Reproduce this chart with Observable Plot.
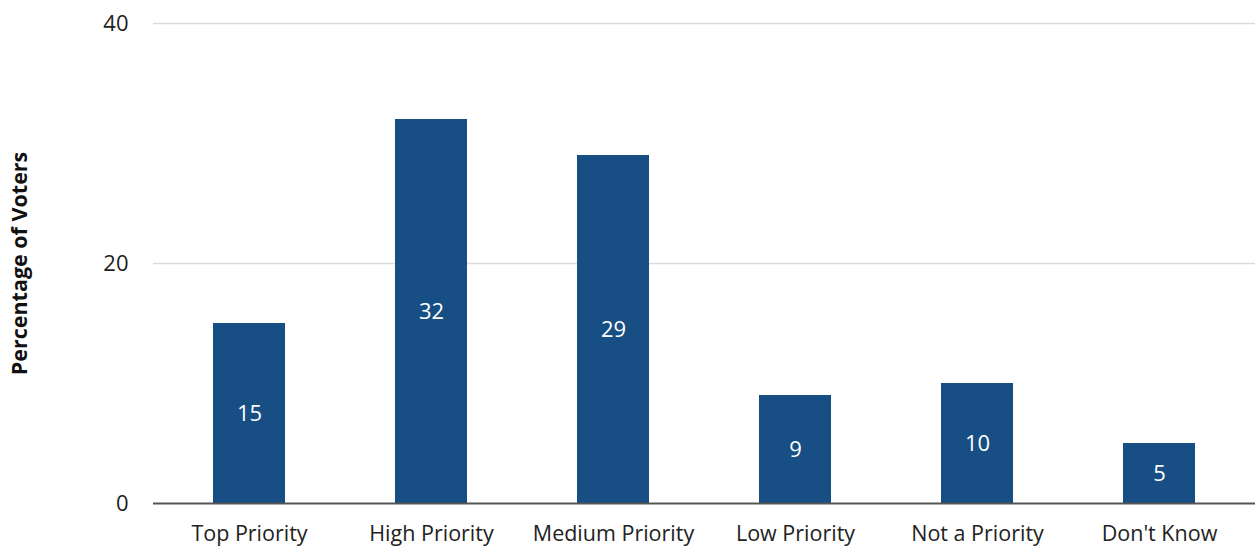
<!DOCTYPE html>
<html><head><meta charset="utf-8">
<script src="https://cdn.jsdelivr.net/npm/d3@7"></script>
<script src="https://cdn.jsdelivr.net/npm/@observablehq/plot@0.6"></script>
<style>
html,body{margin:0;padding:0;background:#fff;}
svg{font-family:"Open Sans",sans-serif;}
</style></head>
<body><div id="chart"></div>
<script>
const categories = ["Top Priority","High Priority","Medium Priority","Low Priority","Not a Priority","Don't Know"];
const values = [15, 32, 29, 9, 10, 5];
const yTicks = [0, 20, 40];
const yTitle = "Percentage of Voters";

const data = categories.map((c, i) => ({category: c, value: values[i]}));

const chart = Plot.plot({
  width: 1255,
  height: 548,
  marginLeft: 153,
  marginRight: 0,
  marginTop: 23,
  marginBottom: 45,
  style: {fontFamily: "'Open Sans', sans-serif", fontSize: "22px", color: "#222", background: "#fff"},
  x: {domain: categories, range: [157, 1251.4], paddingInner: 0.605, paddingOuter: 0.3025, label: null},
  y: {domain: [0, 40], label: null},
  marks: [
    Plot.ruleY(yTicks.filter(d => d > 0), {stroke: "#dcdcdc", strokeWidth: 1.5}),
    Plot.barY(data, {x: "category", y: "value", fill: "#174e84"}),
    Plot.ruleY([0], {stroke: "#555", strokeWidth: 2}),
    Plot.text(data, {x: "category", y: d => d.value / 2, text: d => String(d.value), fill: "white", fontSize: 22}),
    Plot.axisY({ticks: yTicks, tickSize: 0, tickPadding: 25, label: null, fontSize: 22}),
    Plot.axisX({tickSize: 0, tickPadding: 22, label: null, fontSize: 21.5}),
    Plot.text([yTitle], {frameAnchor: "left", dx: -133, rotate: -90, textAnchor: "middle", fontWeight: "bold", fontSize: 21.5, fill: "#111"})
  ]
});
document.getElementById("chart").appendChild(chart);
</script></body></html>
